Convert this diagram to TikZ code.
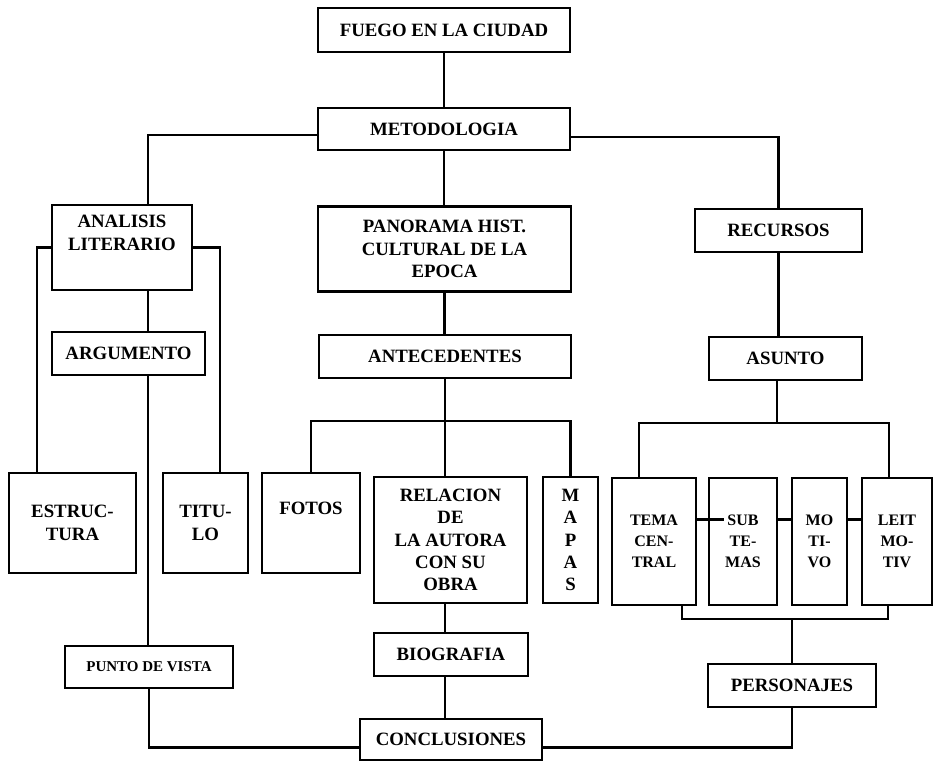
\documentclass[tikz,border=0pt]{standalone}
\usepackage{fontspec}
\setmainfont{Liberation Serif}
\usepackage{tikz}

\begin{document}
\begin{tikzpicture}[x=0.5pt, y=-0.5pt,
    box/.style={draw, line width=1.3pt, inner sep=0pt, align=center,
        font=\fontsize{9.4}{11.2}\selectfont\bfseries},
    smallbox/.style={box, font=\fontsize{8}{10.5}\selectfont\bfseries},
    link/.style={line width=1.1pt}]

\useasboundingbox (0,0) rectangle (939,763);

% Top
\node[box, minimum width=126pt, minimum height=22pt] (fuego) at (444,30) {FUEGO EN LA CIUDAD};
\node[box, minimum width=126pt, minimum height=21pt] (metod) at (444,129) {METODOLOGIA};

% Second row
\node[box, minimum width=70pt, minimum height=42.5pt] (analisis) at (122,247.5) {ANALISIS\\LITERARIO\\\strut};
\node[box, minimum width=126.5pt, minimum height=42.5pt] (panorama) at (444.5,249) {PANORAMA HIST.\\CULTURAL DE LA\\EPOCA};
\node[box, minimum width=83.5pt, minimum height=21.5pt] (recursos) at (778.5,230.5) {RECURSOS};

% Third row
\node[box, minimum width=76.5pt, minimum height=21.5pt] (argumento) at (128.5,353.5) {ARGUMENTO};
\node[box, minimum width=126pt, minimum height=21.5pt] (antec) at (445,356.5) {ANTECEDENTES};
\node[box, minimum width=76.5pt, minimum height=21.5pt] (asunto) at (785.5,358.5) {ASUNTO};

% Tall boxes
\node[box, minimum width=63.5pt, minimum height=50pt] (estructura) at (72.5,523) {ESTRUC-\\TURA};
\node[box, minimum width=42.5pt, minimum height=50pt] (titulo) at (205.5,523) {TITU-\\LO};
\node[box, minimum width=49pt, minimum height=50pt] (fotos) at (311,523) {FOTOS\\\strut};
\node[box, minimum width=76.5pt, minimum height=63pt] (relacion) at (450.5,540) {RELACION\\DE\\LA AUTORA\\CON SU\\OBRA};
\node[box, minimum width=27.5pt, minimum height=63pt] (mapas) at (570.5,540) {M\\A\\P\\A\\S};
\node[smallbox, minimum width=42pt, minimum height=63.5pt] (tema) at (654,541.5) {TEMA\\CEN-\\TRAL};
\node[smallbox, minimum width=34pt, minimum height=63.5pt] (sub) at (743,541.5) {SUB\\TE-\\MAS};
\node[smallbox, minimum width=27.5pt, minimum height=63.5pt] (motivo) at (819.5,541.5) {MO\\TI-\\VO};
\node[smallbox, minimum width=35pt, minimum height=63.5pt] (leit) at (897,541.5) {LEIT\\MO-\\TIV};

% Bottom
\node[box, minimum width=84pt, minimum height=21pt, font=\fontsize{7.5}{9}\selectfont\bfseries] (punto) at (149,667) {PUNTO DE VISTA};
\node[box, minimum width=77pt, minimum height=21.5pt] (biog) at (451,654.5) {BIOGRAFIA};
\node[box, minimum width=84pt, minimum height=21.5pt] (personajes) at (792,685.5) {PERSONAJES};
\node[box, minimum width=91pt, minimum height=20.5pt] (conclus) at (451,739.5) {CONCLUSIONES};

% Bend points
\coordinate (spine) at (148,0);
\coordinate (lft) at (37,0);
\coordinate (rgt) at (220,0);
\coordinate (abus) at (445,421);
\coordinate (tbus) at (777,423);
\coordinate (pbus) at (792,619);

% Links
\draw[link] (fuego.south) -- (fuego.south |- metod.north);
\draw[link] ([yshift=-3pt]metod.west) -| (analisis.north -| spine);
\draw[link] ([yshift=-4pt]metod.east) -| (recursos.north);
\draw[link] (metod.south) -- (metod.south |- panorama.north);

% Left branch
\draw[link] (analisis.south -| spine) -- (argumento.north -| spine);
\draw[link] (argumento.south -| spine) -- (punto.north -| spine);
\draw[link] (analisis.west) -| (estructura.north -| lft);
\draw[link] (analisis.east) -| (titulo.north -| rgt);

% Middle branch
\draw[link] (panorama.south) -- (panorama.south |- antec.north);
\draw[link] (antec.south) -- (antec.south |- relacion.north);
\draw[link] (fotos.north) |- (abus) -| (mapas.north);
\draw[link] (relacion.south -| antec) -- (biog.north -| antec);
\draw[link] (biog.south -| antec) -- (conclus.north -| antec);

% Right branch
\draw[link] (recursos.south) -- (recursos.south |- asunto.north);
\draw[link] (asunto.south -| tbus) -- (tbus);
\draw[link] ([xshift=-7.5pt]tema.north) |- (tbus) -| ([xshift=-4pt]leit.north);
\draw[link] ([yshift=11pt]tema.east) -- ([yshift=11pt,xshift=8pt]sub.west);
\draw[link] ([yshift=11pt]sub.east) -- ([yshift=11pt]motivo.west);
\draw[link] ([yshift=11pt]motivo.east) -- ([yshift=11pt]leit.west);
\draw[link] ([xshift=14pt]tema.south) |- (pbus) -| ([xshift=-4.5pt]leit.south);
\draw[link] (pbus) -- (personajes.north);

% Conclusions
\draw[link] ([yshift=-4pt]conclus.west) -| (punto.south);
\draw[link] ([yshift=-4pt]conclus.east) -| (personajes.south);

\end{tikzpicture}
\end{document}
